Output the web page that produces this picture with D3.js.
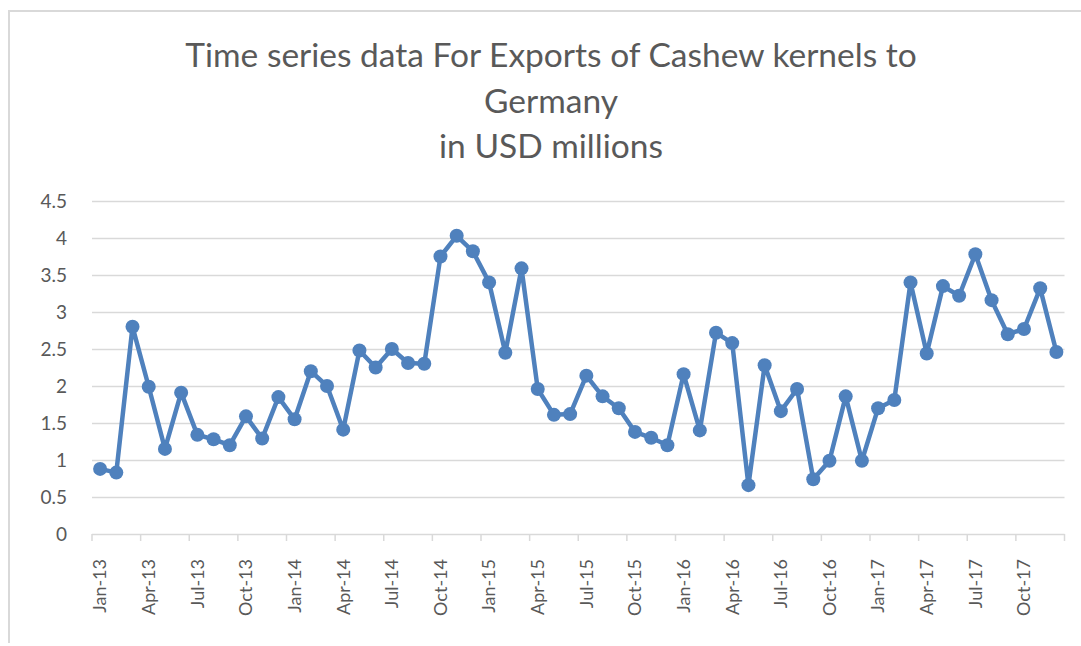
<!DOCTYPE html>
<html lang="en">
<head>
    <title>Cashew kernels exports to Germany</title>
    <meta charset="utf-8"/>
    <script src="https://d3js.org/d3.v7.min.js"></script>
    <style>
        html, body { margin: 0; background: #fff; overflow: hidden; }
        svg { display: block; }
        text { font-family: Lato, "Open Sans", sans-serif; fill: #595959; }
    </style>
</head>
<body>
<div id="viz">
    <svg width="1081" height="646"></svg>
</div>

<script type="text/javascript">

    // colores tipo Excel
    const blue = "#4f81bd", grid = "#d9d9d9", textGray = "#595959";

    // datos
    const monthNames = ["Jan", "Feb", "Mar", "Apr", "May", "Jun", "Jul", "Aug", "Sep", "Oct", "Nov", "Dec"];
    const years = ["13", "14", "15", "16", "17"];
    const exports2013 = [0.88, 0.83, 2.80, 1.99, 1.15, 1.91, 1.34, 1.28, 1.20, 1.59, 1.29, 1.85];
    const exports2014 = [1.55, 2.20, 2.00, 1.41, 2.48, 2.25, 2.50, 2.31, 2.30, 3.75, 4.03, 3.82];
    const exports2015 = [3.40, 2.45, 3.59, 1.96, 1.61, 1.62, 2.14, 1.86, 1.70, 1.38, 1.30, 1.20];
    const exports2016 = [2.16, 1.40, 2.72, 2.58, 0.66, 2.28, 1.66, 1.96, 0.74, 0.99, 1.86, 0.99];
    const exports2017 = [1.70, 1.81, 3.40, 2.44, 3.35, 3.22, 3.78, 3.16, 2.70, 2.77, 3.32, 2.46];
    const yTicks = [0, 0.5, 1, 1.5, 2, 2.5, 3, 3.5, 4, 4.5];
    const tickLabels = ["Jan-13", "Apr-13", "Jul-13", "Oct-13", "Jan-14", "Apr-14", "Jul-14", "Oct-14",
        "Jan-15", "Apr-15", "Jul-15", "Oct-15", "Jan-16", "Apr-16", "Jul-16", "Oct-16",
        "Jan-17", "Apr-17", "Jul-17", "Oct-17"];
    const titleLines = ["Time series data For Exports of Cashew kernels to", "Germany", "in USD millions"];

    // categorias mes-año y valores juntos
    const months = [];
    years.forEach(y => monthNames.forEach(m => months.push(m + "-" + y)));
    const values = [].concat(exports2013, exports2014, exports2015, exports2016, exports2017);
    const data = months.map((m, i) => ({month: m, value: values[i]}));

    const svg = d3.select("svg");

    // borde del area del grafico (solo arriba e izquierda quedan a la vista)
    svg.append("path")
        .attr("d", "M9,643 V11 H1081")
        .attr("fill", "none")
        .attr("stroke", grid)
        .attr("stroke-width", 2);

    // escalas
    let x = d3.scaleBand().domain(months).range([92, 1064.5]).padding(0);
    let y = d3.scaleLinear().domain([0, 4.5]).range([534, 201]);

    // lineas de grilla
    svg.append("g")
        .selectAll("line")
        .data(yTicks).enter()
        .append("line")
        .attr("x1", 92).attr("x2", 1064.5)
        .attr("y1", d => Math.round(y(d)) + 0.5)
        .attr("y2", d => Math.round(y(d)) + 0.5)
        .attr("stroke", grid)
        .attr("stroke-width", 1.5);

    // eje y (solo etiquetas)
    let yEje = d3.axisLeft(y).tickValues(yTicks).tickSize(0).tickPadding(0)
        .tickFormat(d3.format("~g"));
    svg.append("g")
        .attr("transform", "translate(67,0)")
        .style("font-size", "19px")
        .call(yEje)
        .call(g => g.select(".domain").remove())
        .call(g => g.selectAll("text").attr("fill", textGray).style("font-family", "Lato"));

    // marcas del eje x cada 3 meses, en los bordes de las categorias
    const boundaries = months.filter((m, i) => i % 3 === 0).map(m => x(m)).concat([x.range()[1]]);
    svg.append("g")
        .selectAll("line")
        .data(boundaries).enter()
        .append("line")
        .attr("x1", d => d).attr("x2", d => d)
        .attr("y1", 534).attr("y2", 541)
        .attr("stroke", grid)
        .attr("stroke-width", 1.5);

    // etiquetas del eje x, rotadas
    let xEje = d3.axisBottom(x).tickValues(tickLabels).tickSize(0).tickPadding(0);
    svg.append("g")
        .attr("transform", "translate(0,534)")
        .style("font-size", "18px")
        .call(xEje)
        .call(g => g.select(".domain").remove())
        .call(g => g.selectAll("text")
            .attr("fill", textGray)
            .style("font-family", "Lato")
            .attr("text-anchor", "end")
            .attr("dy", "0.35em")
            .attr("y", 0)
            .attr("transform", "translate(0,25) rotate(-90)"));

    // la linea
    let exportLine = d3.line()
        .x(d => x(d.month) + x.bandwidth() / 2)
        .y(d => y(d.value));

    svg.append("path")
        .attr("d", exportLine(data))
        .attr("fill", "none")
        .attr("stroke", blue)
        .attr("stroke-width", 4.5)
        .attr("stroke-linejoin", "round");

    svg.append("g")
        .selectAll("circle")
        .data(data).enter()
        .append("circle")
        .attr("cx", d => x(d.month) + x.bandwidth() / 2)
        .attr("cy", d => y(d.value))
        .attr("r", 7)
        .attr("fill", blue);

    // titulo
    svg.append("g")
        .selectAll("text")
        .data(titleLines).enter()
        .append("text")
        .attr("x", 551)
        .attr("y", (d, i) => 67 + i * 45.5)
        .attr("text-anchor", "middle")
        .style("font-size", "33.5px")
        .style("font-family", "Lato")
        .attr("fill", textGray)
        .text(d => d);

</script>
</body>
</html>
